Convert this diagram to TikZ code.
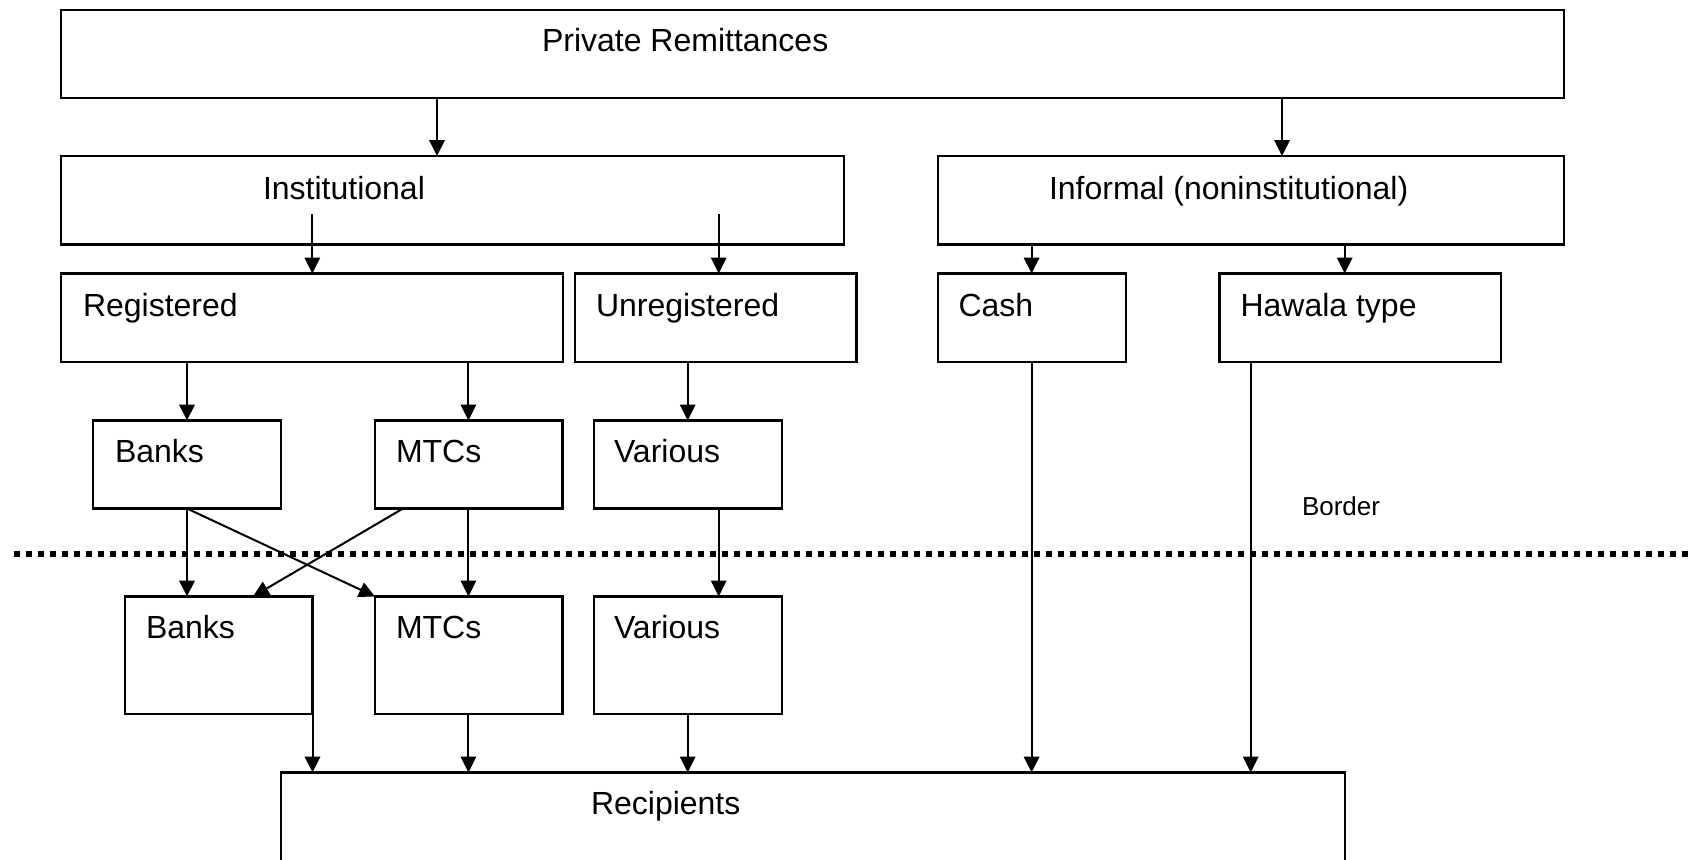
\documentclass[tikz,border=0pt]{standalone}
\usepackage{fontspec}
\setmainfont{Liberation Sans}
\usetikzlibrary{arrows.meta}
\tikzset{
  box/.style={draw, line width=2.4pt, inner sep=0pt, outer sep=0pt, anchor=north west},
  lbl/.style={inner sep=0pt, outer sep=0pt, anchor=base west, font=\fontsize{32}{38}\selectfont},
  small/.style={inner sep=0pt, outer sep=0pt, anchor=base west, font=\fontsize{26}{31}\selectfont},
  arr/.style={line width=2pt, -{Triangle[length=16pt,width=15.5pt]}},
  border/.style={line width=5.5pt, dash pattern=on 5.5pt off 6.5pt}
}
\begin{document}
\begin{tikzpicture}[x=1pt,y=-1pt]
\useasboundingbox (0,0) rectangle (1688,859);
\clip (0,0) rectangle (1688,859);
% boxes
\node[box, minimum width=1503pt, minimum height=88pt] (top) at (61,10) {};
\node[box, minimum width=783pt, minimum height=88.5pt] (inst) at (61,156) {};
\node[box, minimum width=626pt, minimum height=88.5pt] (inf) at (938,156) {};
\node[box, minimum width=502pt, minimum height=88.5pt] (reg) at (61,273.5) {};
\node[box, minimum width=281.5pt, minimum height=88.5pt] (unreg) at (575,273.5) {};
\node[box, minimum width=188pt, minimum height=88.5pt] (cash) at (938,273.5) {};
\node[box, minimum width=281.5pt, minimum height=88.5pt] (hawala) at (1219.5,273.5) {};
\node[box, minimum width=188pt, minimum height=88pt] (banksA) at (93,420.5) {};
\node[box, minimum width=187.5pt, minimum height=88pt] (mtcsA) at (375,420.5) {};
\node[box, minimum width=188pt, minimum height=88pt] (varA) at (594,420.5) {};
\node[box, minimum width=187.5pt, minimum height=117.5pt] (banksB) at (125,596.5) {};
\node[box, minimum width=187.5pt, minimum height=117.5pt] (mtcsB) at (375,596.5) {};
\node[box, minimum width=188pt, minimum height=117.5pt] (varB) at (594,596.5) {};
\node[box, minimum width=1064pt, minimum height=160pt] (recip) at (281,772.5) {};
% labels
\node[lbl] (tTop) at (542,52) {Private Remittances};
\node[lbl] (tInst) at (263,199) {Institutional};
\node[lbl] (tInf) at (1049,199) {Informal (noninstitutional)};
\node[lbl] (tReg) at (83,316) {Registered};
\node[lbl] (tUnreg) at (596,316) {Unregistered};
\node[lbl] (tCash) at (958.5,316) {Cash};
\node[lbl] (tHaw) at (1240.5,316) {Hawala type};
\node[lbl] (tBanksA) at (115,462) {Banks};
\node[lbl] (tMtcsA) at (396,462) {MTCs};
\node[lbl] (tVarA) at (614,462) {Various};
\node[lbl] (tBanksB) at (146,638) {Banks};
\node[lbl] (tMtcsB) at (396,638) {MTCs};
\node[lbl] (tVarB) at (614,638) {Various};
\node[lbl] (tRecip) at (591,814) {Recipients};
\node[small] (tBorder) at (1302,515) {Border};
% border line
\coordinate (bl) at (14,554);
\coordinate (br) at (1692,554);
\draw[border] (bl) -- (br);
% connectors
\draw[arr] (437,0 |- top.south) -- (437,0 |- inst.north);
\draw[arr] (1282,0 |- top.south) -- (1282,0 |- inf.north);
\coordinate (s1) at (312.3,214);
\coordinate (s2) at (718.7,214);
\draw[arr] (s1) -- (s1 |- reg.north);
\draw[arr] (s2) -- (s2 |- unreg.north);
\draw[arr] (1031.6,0 |- inf.south) -- (1031.6,0 |- cash.north);
\draw[arr] (1344.7,0 |- inf.south) -- (1344.7,0 |- hawala.north);
\draw[arr] (187,0 |- reg.south) -- (187,0 |- banksA.north);
\draw[arr] (468.4,0 |- reg.south) -- (468.4,0 |- mtcsA.north);
\draw[arr] (687.7,0 |- unreg.south) -- (687.7,0 |- varA.north);
\draw[arr] (187,0 |- banksA.south) -- (187,0 |- banksB.north);
\draw[arr] (187,0 |- banksA.south) -- (mtcsB.north west);
\draw[arr] (403,0 |- mtcsA.south) -- (253,0 |- banksB.north);
\draw[arr] (468.4,0 |- mtcsA.south) -- (468.4,0 |- mtcsB.north);
\draw[arr] (718.7,0 |- varA.south) -- (718.7,0 |- varB.north);
\draw[arr] (banksB.south east) -- (banksB.east |- recip.north);
\draw[arr] (468.4,0 |- mtcsB.south) -- (468.4,0 |- recip.north);
\draw[arr] (687.7,0 |- varB.south) -- (687.7,0 |- recip.north);
\draw[arr] (1031.6,0 |- cash.south) -- (1031.6,0 |- recip.north);
\draw[arr] (1250.7,0 |- hawala.south) -- (1250.7,0 |- recip.north);
\end{tikzpicture}
\end{document}
